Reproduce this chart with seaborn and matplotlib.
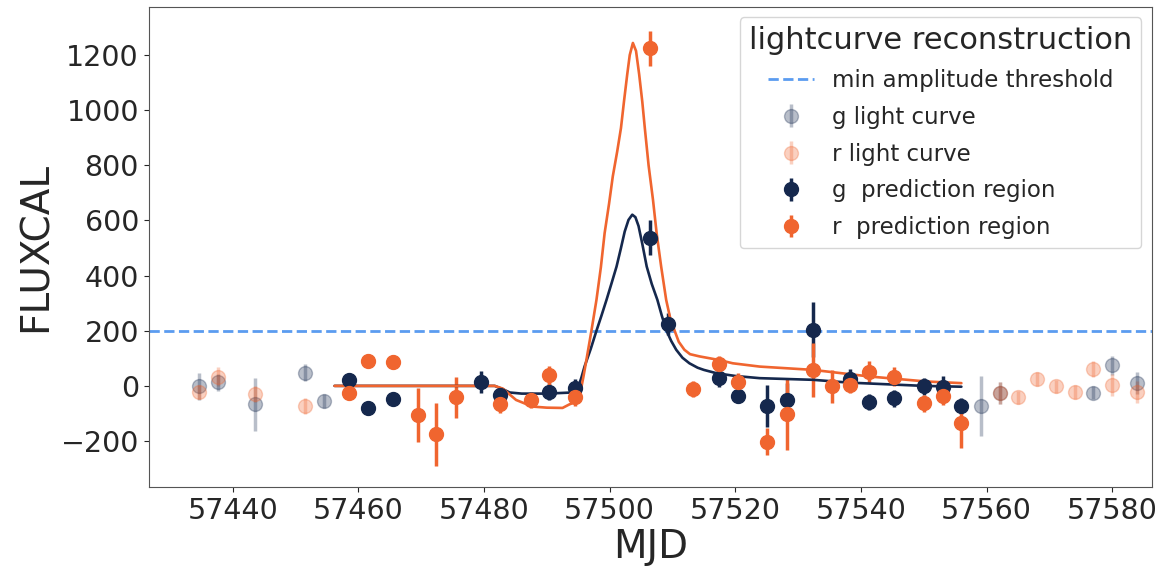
import numpy as np
import matplotlib
matplotlib.use("Agg")
import matplotlib.pyplot as plt
import seaborn as sns
import pandas as pd

# ==========================================================
# DATA
# ==========================================================

# full light curve points outside the prediction region (faded)
g_lc_mjd = [57434.6, 57437.6, 57443.5, 57451.5, 57454.6, 57559.1, 57562.1, 57576.9, 57580.0, 57583.9]
g_lc_flux = [-2, 13, -67, 48, -55, -73, -27, -24, 74, 10]
g_lc_err = [48, 30, 97, 30, 25, 109, 40, 25, 35, 40]

r_lc_mjd = [57434.6, 57437.6, 57443.5, 57451.5, 57562.1, 57565.0, 57568.0, 57571.0, 57574.1, 57576.9, 57580.0, 57583.9]
r_lc_flux = [-21, 34, -30, -73, -25, -42, 24, -2, -21, 62, 4, -23]
r_lc_err = [25, 35, 30, 30, 40, 25, 25, 25, 25, 30, 40, 40]

# points in the prediction region
g_pred_mjd = [57458.5, 57461.6, 57465.5, 57479.5, 57482.5, 57490.3, 57494.5, 57506.5, 57509.3,
              57517.4, 57520.5, 57525.1, 57528.2, 57532.4, 57538.2, 57541.3, 57545.2, 57550.1,
              57553.0, 57556.0]
g_pred_flux = [22, -82, -47, 13, -33, -21, -9, 537, 224,
               27, -36, -73, -51, 204, 25, -58, -45, -2,
               -5, -73]
g_pred_err = [25, 25, 22, 40, 30, 30, 35, 64, 40,
              30, 25, 76, 60, 100, 35, 30, 30, 30,
              40, 30]

r_pred_mjd = [57458.5, 57461.6, 57465.5, 57469.5, 57472.4, 57475.5, 57482.5, 57487.4, 57490.3,
              57494.5, 57506.5, 57513.3, 57517.4, 57520.5, 57525.1, 57528.2, 57532.4, 57535.4,
              57538.2, 57541.3, 57545.2, 57550.1, 57553.0, 57556.0]
r_pred_flux = [-24, 92, 87, -105, -176, -42, -67, -51, 38,
               -42, 1225, -11, 79, 15, -202, -102, 58, -2,
               4, 49, 33, -63, -36, -136]
r_pred_err = [25, 25, 25, 97, 115, 75, 30, 30, 35,
              30, 64, 30, 30, 30, 48, 130, 97, 60,
              30, 40, 35, 30, 35, 88]

# reconstructed light curves
g_fit_mjd = [57456.2, 57481.7, 57483.0, 57484.1, 57486.0, 57490.0, 57494.0, 57494.8, 57495.5,
             57496.0, 57497.0, 57497.9, 57498.7, 57499.5, 57500.3, 57501.1, 57501.8, 57502.4,
             57503.0, 57503.6, 57504.1, 57504.6, 57505.2, 57505.9, 57506.7, 57507.6, 57508.3,
             57509.0, 57509.8, 57510.6, 57511.6, 57512.7, 57514.0, 57515.0, 57517.0, 57520.0,
             57523.9, 57532.4, 57538.0, 57545.0, 57550.0, 57556.0]
g_fit_flux = [0, 0, -12, -24, -28, -28, -24, -18, 30,
              70, 135, 200, 255, 312, 372, 433, 500, 560,
              602, 621, 612, 580, 515, 433, 370, 312, 255,
              203, 163, 131, 102, 82, 66, 58, 46, 36,
              28, 22, 12, 5, 0, -3]

r_fit_mjd = [57456.2, 57481.7, 57483.0, 57485.1, 57487.7, 57490.0, 57492.5, 57493.6, 57494.4,
             57495.2, 57495.8, 57496.3, 57497.1, 57497.9, 57498.6, 57499.2, 57499.9, 57500.5,
             57501.2, 57501.8, 57502.3, 57502.8, 57503.2, 57503.7, 57504.2, 57504.7, 57505.2,
             57505.6, 57506.2, 57506.9, 57507.5, 57508.2, 57509.0, 57509.6, 57510.3, 57511.0,
             57511.9, 57512.8, 57514.3, 57517.4, 57519.6, 57523.9, 57532.4, 57541.4, 57550.4,
             57556.0]
r_fit_flux = [0, 0, -10, -51, -75, -79, -80, -67, -60,
              -39, 30, 94, 200, 312, 430, 554, 660, 760,
              850, 935, 1035, 1130, 1200, 1244, 1215, 1130, 1030,
              935, 800, 675, 550, 433, 312, 250, 203, 160,
              131, 115, 107, 94, 82, 70, 58, 34, 16,
              10]

THRESHOLD = 200

G_COLOR = "#15284d"
R_COLOR = "#f0652f"
LINE_BLUE = "#5b9cf0"

# ==========================================================
# PLOT
# ==========================================================

sns.set_style("ticks")
plt.rcParams['font.family'] = ['DejaVu Sans']

fig, ax = plt.subplots(figsize=(11.61, 5.69), dpi=100)
fig.subplots_adjust(left=0.128, right=0.992, top=0.988, bottom=0.144)

ax.axhline(THRESHOLD, color=LINE_BLUE, linestyle="--", linewidth=2,
           label="min amplitude threshold")

marker_kw = dict(fmt="o", markersize=10, elinewidth=2.5, capsize=0)

ax.errorbar(g_lc_mjd, g_lc_flux, yerr=g_lc_err, color=G_COLOR, alpha=0.3,
            label="g light curve", **marker_kw)
ax.errorbar(r_lc_mjd, r_lc_flux, yerr=r_lc_err, color=R_COLOR, alpha=0.3,
            label="r light curve", **marker_kw)
ax.errorbar(g_pred_mjd, g_pred_flux, yerr=g_pred_err, color=G_COLOR,
            label="g  prediction region", **marker_kw)
ax.errorbar(r_pred_mjd, r_pred_flux, yerr=r_pred_err, color=R_COLOR,
            label="r  prediction region", **marker_kw)

g_fit = pd.DataFrame({"MJD": g_fit_mjd, "FLUXCAL": g_fit_flux})
r_fit = pd.DataFrame({"MJD": r_fit_mjd, "FLUXCAL": r_fit_flux})
sns.lineplot(data=g_fit, x="MJD", y="FLUXCAL", color=G_COLOR, linewidth=1.9, ax=ax,
             legend=False, sort=False)
sns.lineplot(data=r_fit, x="MJD", y="FLUXCAL", color=R_COLOR, linewidth=1.9, ax=ax,
             legend=False, sort=False)

ax.set_xlim(57426.6, 57586.3)
ax.set_ylim(-367, 1375)
ax.set_xticks(np.arange(57440, 57581, 20))
ax.set_yticks(np.arange(-200, 1201, 200))
ax.tick_params(labelsize=20.5)
ax.set_xlabel("MJD", fontsize=28, labelpad=2)
ax.set_ylabel("FLUXCAL", fontsize=28)

for spine in ax.spines.values():
    spine.set_color("#555555")

ax.legend(title="lightcurve reconstruction", title_fontsize=22, fontsize=16.5,
          loc="upper right", labelspacing=0.6, borderaxespad=0.45)

fig.savefig("out.png", dpi=100)
